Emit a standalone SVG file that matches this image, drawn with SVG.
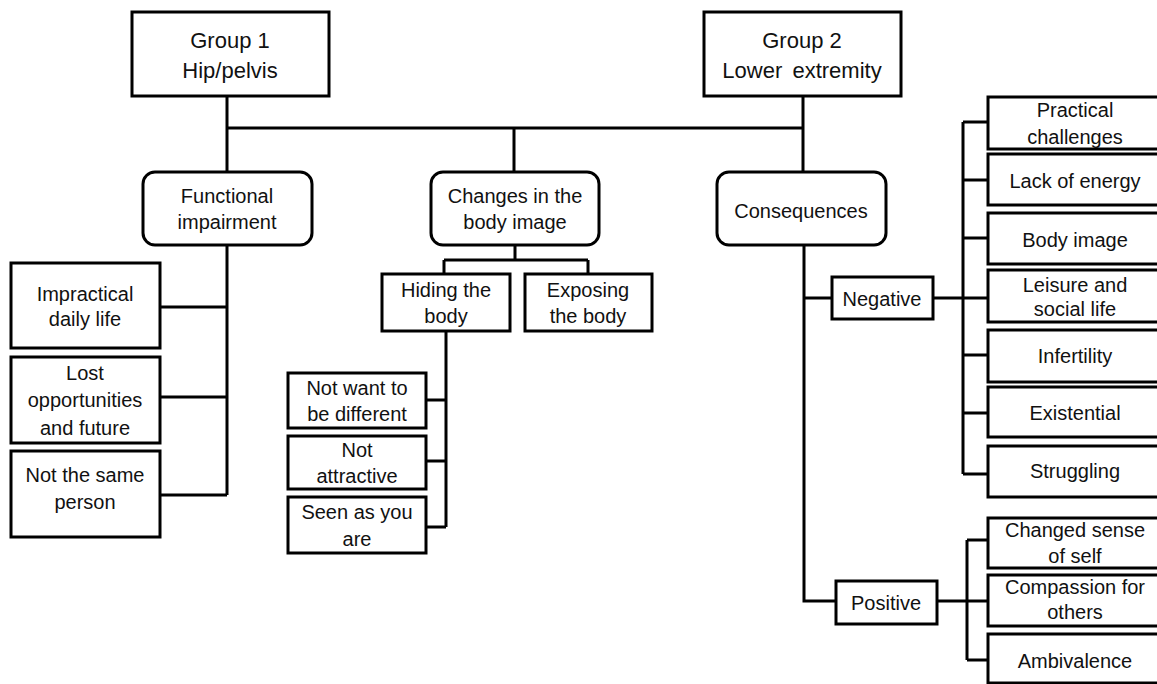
<svg xmlns="http://www.w3.org/2000/svg" width="1157" height="684" viewBox="0 0 1157 684">
<style>
.b{fill:#fff;stroke:#000;stroke-width:3}
.t{font-family:"Liberation Sans",Arial,sans-serif;font-size:20px;fill:#111;text-anchor:middle}
.h{font-size:22px}
.w{word-spacing:4px}
.c{fill:none;stroke:#000;stroke-width:3}
</style>
<rect width="1157" height="684" fill="#fff"/>
<g id="connectors" class="c">
<path d="M227 96V172M227 128H803M514 128V172M803 96V172"/>
<path d="M227 245V495M160 307H227M160 397H227M160 495H227"/>
<path d="M515 245V260M444 260H588M444 260V274M588 260V274"/>
<path d="M446 331V527M426 400H446M426 461H446M426 527H446"/>
<path d="M804 245V601H836M804 298H832"/>
<path d="M933 298H963M963 122V474M963 122H988M963 180H988M963 238H988M963 298H988M963 355H988M963 413H988M963 474H988"/>
<path d="M937 601H967M967 540V660M967 540H988M967 601H988M967 660H988"/>
</g>
<g id="group1"><rect class="b" x="132" y="12" width="197" height="84"/><text class="t h" x="230" y="48">Group 1</text><text class="t h" x="230" y="78">Hip/pelvis</text></g>
<g id="group2"><rect class="b" x="704" y="12" width="197" height="84"/><text class="t h" x="802" y="48">Group 2</text><text class="t h w" x="802" y="78">Lower extremity</text></g>
<g id="functional"><rect class="b" x="143" y="172" width="169" height="73" rx="12"/><text class="t" x="227" y="203">Functional</text><text class="t" x="227" y="229">impairment</text></g>
<g id="changes"><rect class="b" x="431" y="172" width="168" height="73" rx="12"/><text class="t" x="515" y="203">Changes in the</text><text class="t" x="515" y="229">body image</text></g>
<g id="consequences"><rect class="b" x="717" y="172" width="169" height="73" rx="12"/><text class="t" x="801" y="218">Consequences</text></g>
<g id="impractical"><rect class="b" x="11" y="263" width="149" height="85"/><text class="t" x="85" y="301">Impractical</text><text class="t" x="85" y="326">daily life</text></g>
<g id="lost"><rect class="b" x="11" y="357" width="149" height="86"/><text class="t" x="85" y="380">Lost</text><text class="t" x="85" y="407">opportunities</text><text class="t" x="85" y="435">and future</text></g>
<g id="notsame"><rect class="b" x="11" y="451" width="149" height="86"/><text class="t" x="85" y="482">Not the same</text><text class="t" x="85" y="509">person</text></g>
<g id="hiding"><rect class="b" x="382" y="274" width="128" height="57"/><text class="t" x="446" y="297">Hiding the</text><text class="t" x="446" y="323">body</text></g>
<g id="exposing"><rect class="b" x="525" y="274" width="127" height="57"/><text class="t" x="588" y="297">Exposing</text><text class="t" x="588" y="323">the body</text></g>
<g id="notwant"><rect class="b" x="288" y="373" width="138" height="55"/><text class="t" x="357" y="395">Not want to</text><text class="t" x="357" y="421">be different</text></g>
<g id="notattractive"><rect class="b" x="288" y="436" width="138" height="53"/><text class="t" x="357" y="457">Not</text><text class="t" x="357" y="483">attractive</text></g>
<g id="seen"><rect class="b" x="288" y="497" width="138" height="56"/><text class="t" x="357" y="519">Seen as you</text><text class="t" x="357" y="546">are</text></g>
<g id="negative"><rect class="b" x="832" y="277" width="101" height="42"/><text class="t" x="882" y="306">Negative</text></g>
<g id="positive"><rect class="b" x="836" y="581" width="101" height="43"/><text class="t" x="886" y="610">Positive</text></g>
<g id="practical"><rect class="b" x="988" y="97" width="175" height="52"/><text class="t" x="1075" y="117">Practical</text><text class="t" x="1075" y="144">challenges</text></g>
<g id="lackenergy"><rect class="b" x="988" y="154" width="175" height="51"/><text class="t" x="1075" y="188">Lack of energy</text></g>
<g id="bodyimage"><rect class="b" x="988" y="213" width="175" height="51"/><text class="t" x="1075" y="247">Body image</text></g>
<g id="leisure"><rect class="b" x="988" y="270" width="175" height="52"/><text class="t" x="1075" y="292">Leisure and</text><text class="t" x="1075" y="316">social life</text></g>
<g id="infertility"><rect class="b" x="988" y="330" width="175" height="52"/><text class="t" x="1075" y="363">Infertility</text></g>
<g id="existential"><rect class="b" x="988" y="387" width="175" height="50"/><text class="t" x="1075" y="420">Existential</text></g>
<g id="struggling"><rect class="b" x="988" y="446" width="175" height="51"/><text class="t" x="1075" y="478">Struggling</text></g>
<g id="changedsense"><rect class="b" x="988" y="518" width="175" height="50"/><text class="t" x="1075" y="537">Changed sense</text><text class="t" x="1075" y="563">of self</text></g>
<g id="compassion"><rect class="b" x="988" y="575" width="175" height="51"/><text class="t" x="1075" y="594">Compassion for</text><text class="t" x="1075" y="619">others</text></g>
<g id="ambivalence"><rect class="b" x="988" y="634" width="175" height="49"/><text class="t" x="1075" y="668">Ambivalence</text></g>
</svg>
